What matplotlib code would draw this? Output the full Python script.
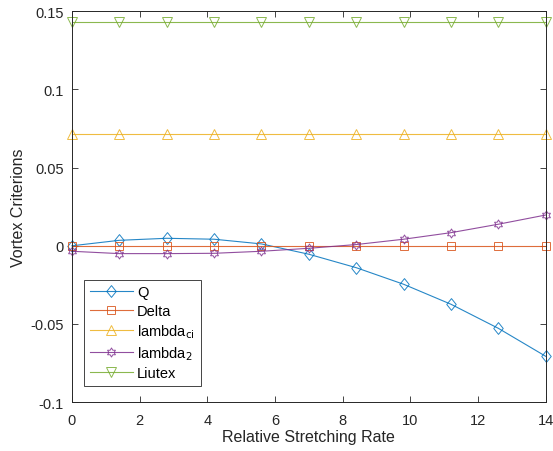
import numpy as np
import matplotlib
matplotlib.use('Agg')
import matplotlib.pyplot as plt
from matplotlib.path import Path

plt.rcParams['font.family'] = ['Liberation Sans', 'DejaVu Sans']

# DATA
rate = [0, 1.4, 2.8, 4.2, 5.6, 7.0, 8.4, 9.8, 11.2, 12.6, 14.0]
q_vals = [0.0, 0.0035, 0.0048, 0.0042, 0.0012, -0.0054, -0.0140, -0.0246, -0.0374, -0.0528, -0.0707]
delta_vals = [0.0] * 11
lambda_ci_vals = [0.0714] * 11
lambda_2_vals = [-0.0035, -0.0050, -0.0050, -0.0048, -0.0035, -0.0016, 0.0008, 0.0042, 0.0084, 0.0138, 0.0197]
liutex_vals = [0.1428] * 11

labels = ['Q', 'Delta', r'lambda$_{\rm ci}$', r'lambda$_{\rm 2}$', 'Liutex']
colors = ['#0072BD', '#D95319', '#EDB120', '#7E2F8E', '#77AC30']

# hexagram marker like MATLAB's
ang = np.deg2rad(np.arange(12) * 30 + 90)
rad = np.where(np.arange(12) % 2 == 0, 1.0, 0.58)
verts = np.column_stack([rad * np.cos(ang), rad * np.sin(ang)])
hexagram = Path(np.vstack([verts, verts[:1]]), closed=True)
# MATLAB style diamond (a bit wider than matplotlib's 'd')
diamond = Path([(0, 1), (0.8, 0), (0, -1), (-0.8, 0), (0, 1)], closed=True)

markers = [diamond, 's', '^', hexagram, 'v']
sizes = [8.5, 5.2, 7.5, 6.5, 7.5]
series = [q_vals, delta_vals, lambda_ci_vals, lambda_2_vals, liutex_vals]

fig = plt.figure(figsize=(5.53, 4.52), dpi=100)
ax = fig.add_axes([0.130, 0.108, 0.857, 0.865])

for y, lab, c, m, ms in zip(series, labels, colors, markers, sizes):
    ax.plot(rate, y, color=c, marker=m, markersize=ms, markerfacecolor='none',
            markeredgewidth=0.7, linewidth=0.8, alpha=0.85, label=lab, clip_on=False)

ax.set_xlim(0, 14)
ax.set_ylim(-0.1, 0.15)
ax.set_xticks([0, 2, 4, 6, 8, 10, 12, 14])
ax.set_yticks([-0.1, -0.05, 0, 0.05, 0.1, 0.15])
ax.set_yticklabels(['-0.1', '-0.05', '0', '0.05', '0.1', '0.15'])
ax.tick_params(direction='in', top=True, right=True, length=4, width=0.6,
               labelsize=10.5, colors='#262626')
ax.tick_params(axis='x', pad=8)
ax.tick_params(axis='y', pad=6)
for s in ax.spines.values():
    s.set_color('#262626')
    s.set_linewidth(0.7)

ax.set_xlabel('Relative Stretching Rate', fontsize=11.5, color='#262626', labelpad=1)
ax.set_ylabel('Vortex Criterions', fontsize=11.5, color='#262626', labelpad=3)

leg = ax.legend(loc='lower left', bbox_to_anchor=(0.025, 0.041), borderaxespad=0,
                fontsize=10.5, fancybox=False, edgecolor='#262626', framealpha=1,
                handlelength=3.0, borderpad=0.4, labelspacing=0.3, handletextpad=0.25)
leg.get_frame().set_linewidth(0.6)

plt.savefig('out.png', dpi=100)
